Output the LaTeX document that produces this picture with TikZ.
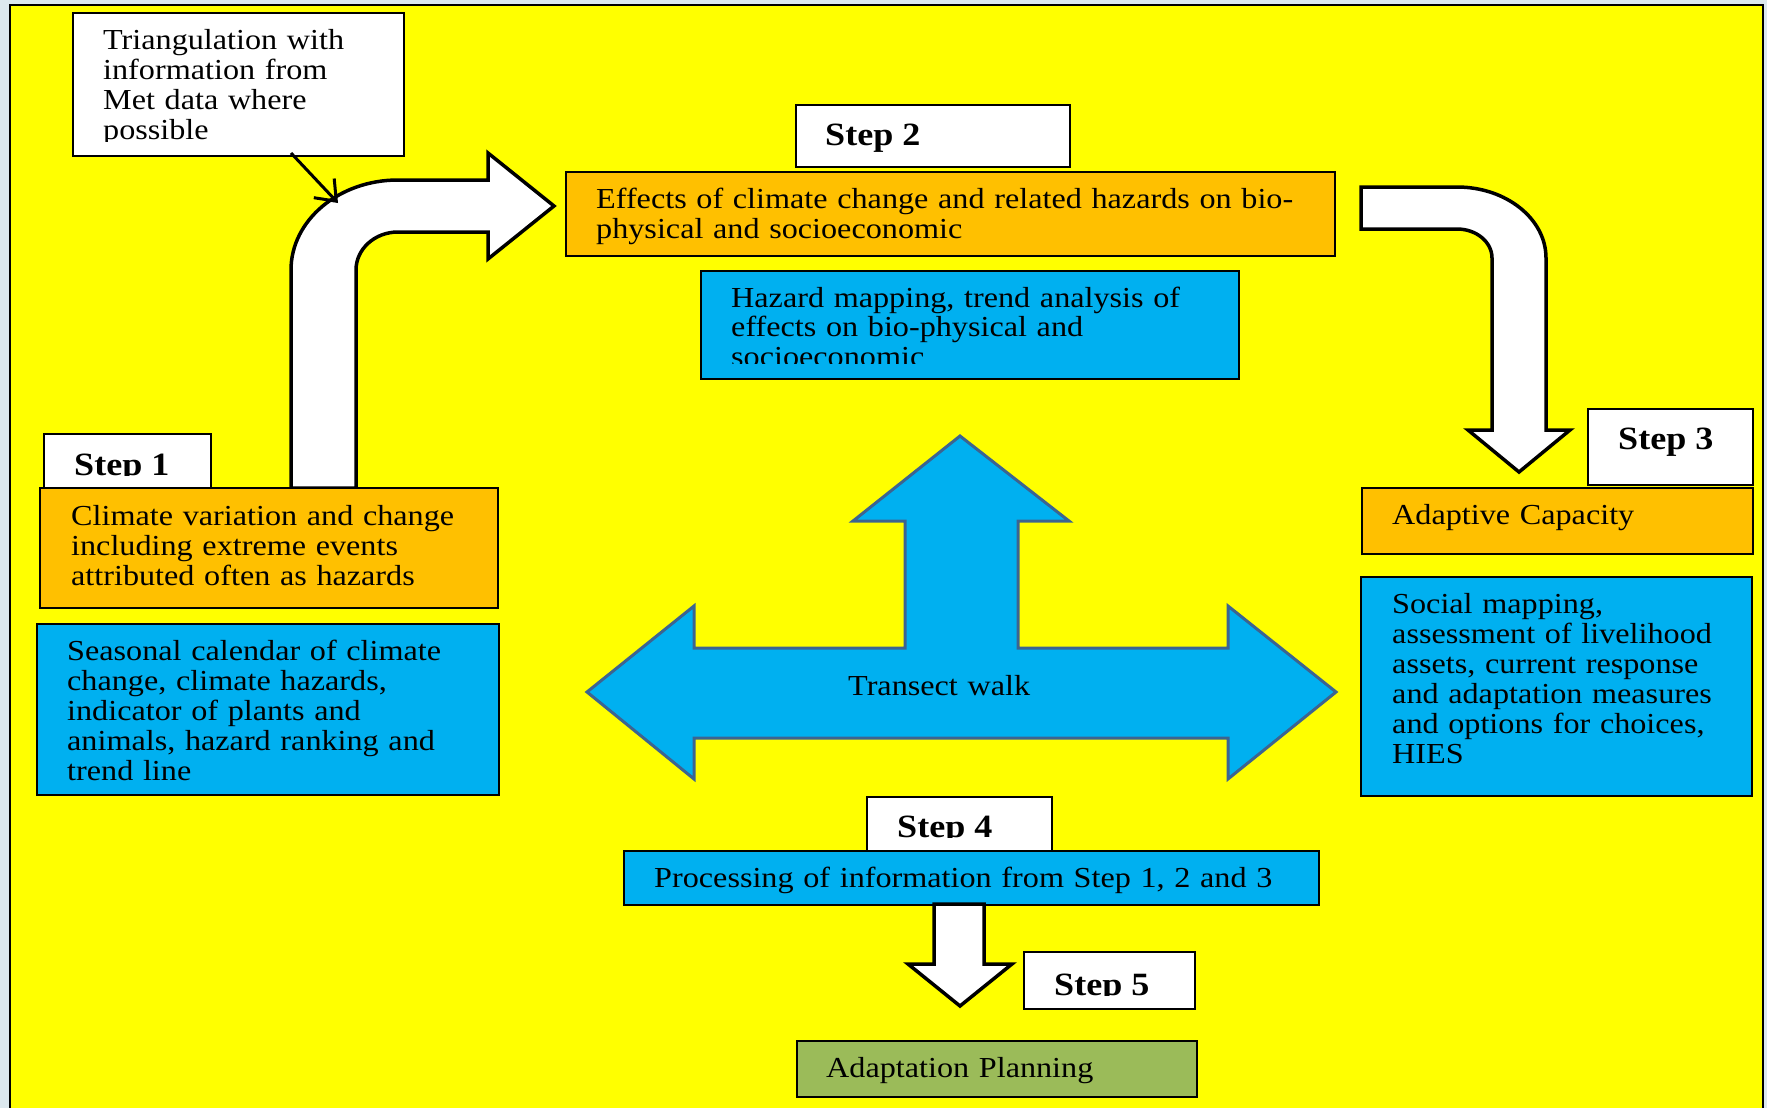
\documentclass[tikz,border=0pt]{standalone}
\usepackage{fontspec}
\setmainfont{Liberation Serif}[FakeStretch=1.11]
\usetikzlibrary{arrows.meta}
\definecolor{bgblue}{RGB}{220,232,238}
\definecolor{slideyellow}{RGB}{255,255,0}
\definecolor{boxorange}{RGB}{255,192,0}
\definecolor{boxblue}{RGB}{0,176,240}
\definecolor{boxgreen}{RGB}{155,187,89}
\definecolor{arrowedge}{RGB}{60,100,145}
\begin{document}
\begin{tikzpicture}[x=1pt,y=-1pt,
  box/.style={draw=black, line width=1.8pt, inner sep=0pt, anchor=north west},
  txt/.style={anchor=base west, inner sep=0pt, text width=900pt, align=left,
              font=\fontsize{29}{30}\selectfont},
  steptxt/.style={anchor=base west, inner sep=0pt, font=\fontsize{32.5}{33}\selectfont\bfseries},
  bent/.style={draw=black, line width=3.5pt, fill=white, line join=miter},
  walk/.style={draw=arrowedge, line width=3pt, fill=boxblue, line join=miter}
]
\useasboundingbox (0,0) rectangle (1767,1108);
\clip (0,0) rectangle (1767,1108);
% background and frame
\fill[bgblue] (0,0) rectangle (1767,1108);
\fill[slideyellow] (10,5) rectangle (1763,1108);
\draw[line width=2.5pt] (10,1108) -- (10,5) -- (1763,5) -- (1763,1108);

% triangulation note
\node[box, fill=white, minimum width=331, minimum height=143] (tri) at (72,12) {};
\begin{scope}
\clip (72,12) rectangle (403,141);
\node[txt] (tritxt) at (103,49) {Triangulation with\\information from\\Met data where\\possible};
\end{scope}

% bent arrow from step 1 to step 2
\draw[bent] (291,488) -- (291,270)
  arc[start angle=180, end angle=270, x radius=107, y radius=90]
  -- (488,180) -- (488,153) -- (554,206) -- (488,259) -- (488,232) -- (398,232)
  arc[start angle=270, end angle=180, x radius=42, y radius=38]
  -- (356,488) -- cycle;
\coordinate (bendtop) at (338,203);
\coordinate (calloutstart) at (291,153);
\draw[line width=3pt, -{Straight Barb[length=18pt,width=28pt,line width=3pt]}] (calloutstart) -- (bendtop);

% Step 1
\node[box, fill=white, minimum width=167, minimum height=60] (s1box) at (43,433) {};
\begin{scope}
\clip (43,433) rectangle (210,475);
\node[steptxt] (s1txt) at (74,475) {Step 1};
\end{scope}
\node[box, fill=boxorange, minimum width=458, minimum height=120] (o1) at (39,487) {};
\node[txt] (o1txt) at (71,525) {Climate variation and change\\including extreme events\\attributed often as hazards};
\node[box, fill=boxblue, minimum width=462, minimum height=171] (b1) at (36,623) {};
\node[txt] (b1txt) at (67,660) {Seasonal calendar of climate\\change, climate hazards,\\indicator of plants and\\animals, hazard ranking and\\trend line};

% Step 2
\node[box, fill=white, minimum width=274, minimum height=62] (s2box) at (795,104) {};
\node[steptxt] (s2txt) at (825,145) {Step 2};
\node[box, fill=boxorange, minimum width=769, minimum height=84] (o2) at (565,171) {};
\node[txt] (o2txt) at (596,208) {Effects of climate change and related hazards on bio-\\physical and socioeconomic};
\node[box, fill=boxblue, minimum width=538, minimum height=108] (b2) at (700,270) {};
\begin{scope}
\clip (700,270) rectangle (1238,363);
\node[txt, font=\fontsize{29}{29.5}\selectfont] (b2txt) at (731,307) {Hazard mapping, trend analysis of\\effects on bio-physical and\\socioeconomic};
\end{scope}

% bent arrow from step 2 to step 3
\draw[bent] (1361,187) -- (1457,187)
  arc[start angle=270, end angle=360, x radius=89, y radius=71]
  -- (1546,430) -- (1570,430) -- (1519,472) -- (1468,430) -- (1492,430) -- (1492,258)
  arc[start angle=0, end angle=-90, x radius=35, y radius=29]
  -- (1361,229) -- cycle;

% Step 3
\node[box, fill=white, minimum width=165, minimum height=76] (s3box) at (1587,408) {};
\node[steptxt] (s3txt) at (1618,449) {Step 3};
\node[box, fill=boxorange, minimum width=391, minimum height=66] (o3) at (1361,487) {};
\node[txt] (o3txt) at (1392,524) {Adaptive Capacity};
\node[box, fill=boxblue, minimum width=391, minimum height=219] (b3) at (1360,576) {};
\node[txt] (b3txt) at (1392,613) {Social mapping,\\assessment of livelihood\\assets, current response\\and adaptation measures\\and options for choices,\\HIES};

% transect walk arrow
\draw[walk] (960,436) -- (1069,521) -- (1018,521) -- (1018,648) -- (1228,648) -- (1228,606)
  -- (1336,692) -- (1228,779) -- (1228,738) -- (694,738) -- (694,779) -- (587,692)
  -- (694,606) -- (694,648) -- (905,648) -- (905,521) -- (853,521) -- cycle;
\node[txt] (walktxt) at (848,695) {Transect walk};

% Step 4
\node[box, fill=white, minimum width=185, minimum height=60] (s4box) at (866,796) {};
\begin{scope}
\clip (866,796) rectangle (1051,837);
\node[steptxt] (s4txt) at (897,837) {Step 4};
\end{scope}
\node[box, fill=boxblue, minimum width=695, minimum height=54] (b4) at (623,850) {};
\node[txt] (b4txt) at (654,887) {Processing of information from Step 1, 2 and 3};

% down arrow to step 5
\draw[bent] (934,904) -- (934,964) -- (908,964) -- (960,1006) -- (1012,964) -- (984,964) -- (984,904) -- cycle;

% Step 5
\node[box, fill=white, minimum width=171, minimum height=57] (s5box) at (1023,951) {};
\begin{scope}
\clip (1023,951) rectangle (1194,995);
\node[steptxt] (s5txt) at (1054,995) {Step 5};
\end{scope}
\node[box, fill=boxgreen, minimum width=400, minimum height=56] (green) at (796,1040) {};
\node[txt] (greentxt) at (826,1077) {Adaptation Planning};
\end{tikzpicture}
\end{document}
